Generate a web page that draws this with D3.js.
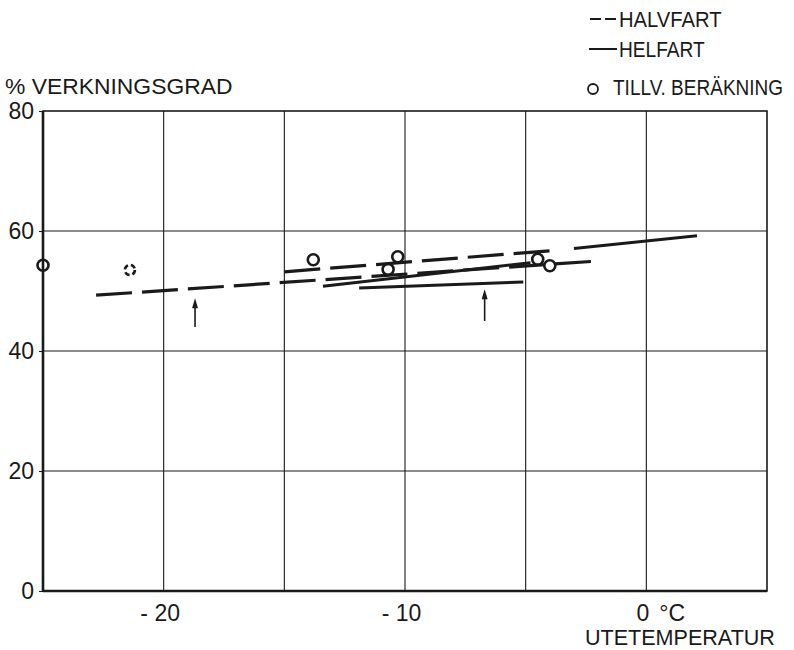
<!DOCTYPE html>
<html><head><meta charset="utf-8">
<script src="https://cdn.jsdelivr.net/npm/d3@7"></script>
<style>
html,body{margin:0;padding:0;background:#fff;}
svg{display:block;}
text{font-family:"Liberation Sans",Arial,sans-serif;fill:#1a1a1a;}
</style></head>
<body>
<svg id="chart" width="794" height="650"></svg>
<script>
// ---- data ----
const xTicks = [-20, -10, 0];
const xTickLabels = ["- 20", "- 10", "0"];
const xGrid = [-20, -15, -10, -5, 0];
const yTicks = [0, 20, 40, 60, 80];
const yTickLabels = ["0", "20", "40", "60", "80"];

// HALVFART (dashed)
const halvfartLower = [[-22.8, 49.3], [-2.0, 55.0]];
const halvfartUpper = [[-15.0, 53.2], [-3.7, 56.8]];
// HELFART (solid)
const helfartTop = [[-3.0, 57.1], [2.1, 59.2]];
const helfartMid = [[-13.4, 50.8], [-4.8, 54.7]];
const helfartLow = [[-11.9, 50.5], [-5.1, 51.5]];

// TILLV. BERÄKNING (circles)
const tillvTemp = [-25.0, -13.8, -10.7, -10.3, -4.5, -4.0];
const tillvVerk = [54.3, 55.2, 53.6, 55.7, 55.3, 54.2];
const tillvDashedTemp = [-21.4];
const tillvDashedVerk = [53.5];

// arrows
const arrowTemp = [-18.7, -6.7];
const arrowFrom = [44.0, 45.0];
const arrowTo = [48.8, 50.3];

// ---- drawing ----
const svg = d3.select("#chart");
const x = d3.scaleLinear().domain([-25, 5]).range([43, 767]);
const y = d3.scaleLinear().domain([0, 80]).range([591, 111]);
const ink = "#1a1a1a";

// grid
svg.append("g").selectAll("line").data(xGrid).join("line")
  .attr("x1", d => x(d)).attr("x2", d => x(d))
  .attr("y1", y(0)).attr("y2", y(80))
  .attr("stroke", ink).attr("stroke-width", 1.1);
svg.append("g").selectAll("line").data(yTicks.filter(d => d > 0 && d < 80)).join("line")
  .attr("x1", x(-25)).attr("x2", x(5))
  .attr("y1", d => y(d)).attr("y2", d => y(d))
  .attr("stroke", ink).attr("stroke-width", 1.1);

// frame
svg.append("rect").attr("x", x(-25)).attr("y", y(80))
  .attr("width", x(5) - x(-25)).attr("height", y(0) - y(80))
  .attr("fill", "none").attr("stroke", ink).attr("stroke-width", 1.6);
svg.append("line").attr("x1", x(-25)).attr("x2", x(-25)).attr("y1", y(80)).attr("y2", y(0))
  .attr("stroke", ink).attr("stroke-width", 2.6);
svg.append("line").attr("x1", x(-25)).attr("x2", x(5)).attr("y1", y(0)).attr("y2", y(0))
  .attr("stroke", ink).attr("stroke-width", 2.6);

// y axis labels
const yAxis = d3.axisLeft(y).tickValues(yTicks).tickSize(4).tickPadding(5)
  .tickFormat((d, i) => yTickLabels[i]);
const ga = svg.append("g").attr("transform", `translate(${x(-25)},0)`).call(yAxis);
ga.select(".domain").remove();
ga.selectAll("line").attr("stroke", ink).attr("stroke-width", 1.1);
ga.selectAll("text").attr("font-size", 23).attr("fill", ink)
  .style("font-family", "'Liberation Sans',sans-serif");

// x axis labels
const xAxis = d3.axisBottom(x).tickValues(xTicks).tickSize(0).tickPadding(14)
  .tickFormat((d, i) => xTickLabels[i]);
const gx = svg.append("g").attr("transform", `translate(-4,${y(0)})`).call(xAxis);
gx.select(".domain").remove();
gx.selectAll("text").attr("font-size", 23).attr("fill", ink)
  .style("font-family", "'Liberation Sans',sans-serif");
svg.append("text").attr("x", x(0) + 13).attr("y", 621).attr("font-size", 23)
  .text("°C");

// compressed (drafting-style) text helper
function label(g, px, py, size, sx, str) {
  return g.append("text").attr("transform", `translate(${px},${py}) scale(${sx},1)`)
    .attr("font-size", size).text(str);
}
label(svg, 585, 645, 22, 0.98, "UTETEMPERATUR");
label(svg, 5, 94, 22, 1.04, "% VERKNINGSGRAD");

// lines
const line = d3.line().x(d => x(d[0])).y(d => y(d[1]));
[halvfartLower, halvfartUpper].forEach(s => {
  svg.append("path").attr("d", line(s)).attr("fill", "none")
    .attr("stroke", ink).attr("stroke-width", 3.2).attr("stroke-dasharray", "36,10");
});
[helfartTop, helfartMid, helfartLow].forEach(s => {
  svg.append("path").attr("d", line(s)).attr("fill", "none")
    .attr("stroke", ink).attr("stroke-width", 3);
});

// circles
svg.append("g").selectAll("circle").data(tillvTemp).join("circle")
  .attr("cx", d => x(d)).attr("cy", (d, i) => y(tillvVerk[i])).attr("r", 5.5)
  .attr("fill", "none").attr("stroke", ink).attr("stroke-width", 2.6);
svg.append("g").selectAll("circle").data(tillvDashedTemp).join("circle")
  .attr("cx", d => x(d)).attr("cy", (d, i) => y(tillvDashedVerk[i])).attr("r", 5)
  .attr("fill", "none").attr("stroke", ink).attr("stroke-width", 2.6)
  .attr("stroke-dasharray", "5,3");

// arrows
arrowTemp.forEach((t, i) => {
  const xa = x(t), y1 = y(arrowFrom[i]), y2 = y(arrowTo[i]);
  svg.append("line").attr("x1", xa).attr("x2", xa).attr("y1", y1).attr("y2", y2 + 6)
    .attr("stroke", ink).attr("stroke-width", 1.6);
  svg.append("path").attr("d", `M${xa},${y2} L${xa - 3},${y2 + 10} L${xa + 3},${y2 + 10} Z`)
    .attr("fill", ink);
});

// legend
const lg = svg.append("g");
lg.append("line").attr("x1", 590).attr("x2", 601).attr("y1", 19).attr("y2", 19)
  .attr("stroke", ink).attr("stroke-width", 2);
lg.append("line").attr("x1", 605).attr("x2", 616).attr("y1", 19).attr("y2", 19)
  .attr("stroke", ink).attr("stroke-width", 2);
label(lg, 619, 27, 22, 0.92, "HALVFART");
lg.append("line").attr("x1", 589).attr("x2", 617).attr("y1", 49).attr("y2", 49)
  .attr("stroke", ink).attr("stroke-width", 2);
label(lg, 619, 57, 22, 0.87, "HELFART");
lg.append("circle").attr("cx", 593).attr("cy", 89).attr("r", 5)
  .attr("fill", "none").attr("stroke", ink).attr("stroke-width", 1.8);
label(lg, 613, 95, 22, 0.865, "TILLV. BERÄKNING");
</script>
</body></html>
